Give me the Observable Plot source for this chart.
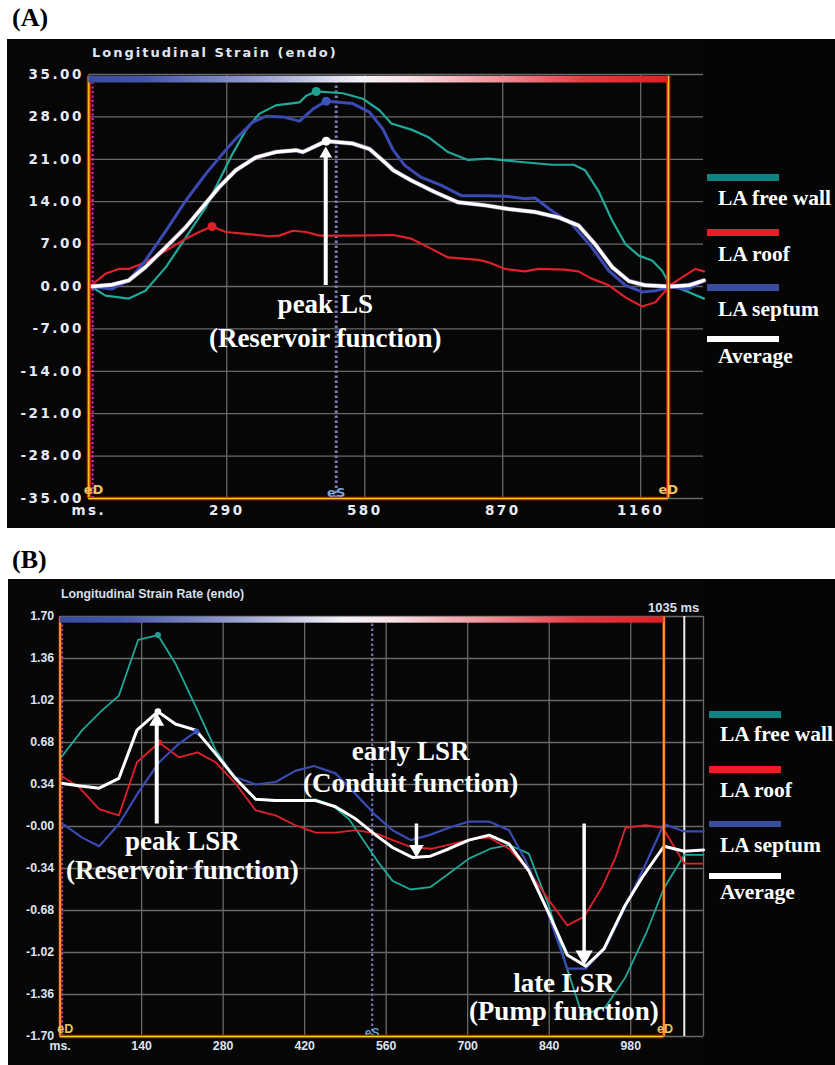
<!DOCTYPE html>
<html>
<head>
<meta charset="utf-8">
<script src="https://cdn.jsdelivr.net/npm/d3@7"></script>
<script src="https://cdn.jsdelivr.net/npm/@observablehq/plot@0.6"></script>
<style>
  body { margin: 0; background: #fff; }
  #page { position: relative; width: 835px; height: 1065px; overflow: hidden; background: #fff; }
  .panel { position: absolute; background: #050505; }
  .plotwrap { position: absolute; }
  .plbl { position: absolute; font-family: "Liberation Serif", "Times New Roman", serif; font-weight: bold; font-size: 26px; line-height: 26px; color: #000; }
  .leg { position: absolute; font-family: "Liberation Serif", "Times New Roman", serif; font-weight: bold; font-size: 21.5px; line-height: 21.5px; color: #fff; white-space: nowrap; }
  .bar { position: absolute; }
  .ttlA { position: absolute; font-family: "DejaVu Sans", sans-serif; font-weight: bold; font-size: 13px; line-height: 13px; letter-spacing: 2px; color: #dfe6f3; white-space: nowrap; }
  .ttlB { position: absolute; font-family: "Liberation Sans", Arial, sans-serif; font-weight: bold; font-size: 12.3px; line-height: 12.3px; color: #d8e0ee; white-space: nowrap; }
</style>
</head>
<body>
<div id="page">
  <div class="plbl" style="left:12px; top:5px;">(A)</div>
  <div class="panel" style="left:7px; top:39px; width:828px; height:489px;"></div>
  <div id="plotA" class="plotwrap" style="left:7px; top:39px;"></div>
  <div class="ttlA" style="left:92px; top:46px;">Longitudinal Strain (endo)</div>

  <div class="plbl" style="left:12px; top:547px;">(B)</div>
  <div class="panel" style="left:8px; top:579px; width:827px; height:486px;"></div>
  <div id="plotB" class="plotwrap" style="left:8px; top:579px;"></div>
  <div class="ttlB" style="left:61px; top:588px;">Longitudinal Strain Rate (endo)</div>
  <div class="ttlB" style="left:648px; top:601px; font-size:13px; line-height:13px;">1035 ms</div>
  <div id="legends"></div>
</div>
<script>
// ---------------- Panel A: Longitudinal Strain (%), time in ms ----------------
const freeWallA = [[5,0],[35,-1.5],[84,-2.0],[119,-0.7],[162,3.2],[204,8.1],[246,13.1],[274,17.5],[302,21.9],[330,25.8],[358,28.5],[393,29.9],[443,30.4],[457,31.5],[478,32.2],[534,31.9],[576,31.0],[611,29.1],[636,26.9],[678,25.9],[713,24.7],[755,22.2],[797,20.9],[840,21.1],[903,20.6],[973,20.1],[1019,20.1],[1043,19.2],[1071,15.8],[1100,10.9],[1128,7.0],[1156,5.1],[1184,4.3],[1205,2.6],[1222,0.2],[1254,-0.7],[1293,-2.0]];
const septumA = [[5,0],[49,-0.4],[84,1.0],[119,4.3],[162,9.2],[204,14.2],[246,18.6],[281,21.9],[309,24.4],[344,27.1],[372,28.1],[408,28.0],[443,27.3],[471,29.3],[499,30.6],[555,30.2],[590,28.8],[618,26.0],[640,22.5],[664,20.0],[699,18.0],[741,16.7],[783,15.0],[833,15.0],[875,14.9],[917,14.5],[938,14.6],[973,12.5],[1015,10.3],[1057,6.5],[1093,2.6],[1128,0.2],[1163,-0.9],[1191,-0.7],[1222,-0.1],[1261,-0.4],[1293,1.0]];
const roofA = [[5,0.2],[35,2.1],[63,2.9],[84,2.9],[119,4.0],[162,5.9],[204,7.9],[232,9.0],[259,9.9],[288,9.0],[330,8.7],[379,8.3],[400,8.4],[429,9.2],[457,9.0],[485,8.4],[555,8.4],[640,8.5],[678,7.9],[713,6.5],[755,4.8],[819,4.4],[840,4.0],[875,2.9],[917,2.5],[945,2.9],[1001,2.8],[1029,2.5],[1057,1.3],[1093,0.2],[1128,-1.8],[1163,-3.3],[1191,-2.6],[1222,0.2],[1247,1.5],[1275,2.9],[1293,2.5]];
const averageA = [[5,0],[49,0.3],[84,1.0],[119,3.2],[162,6.5],[204,9.8],[239,13.1],[274,16.4],[309,19.2],[351,21.3],[393,22.2],[436,22.5],[450,22.2],[499,24.0],[555,23.6],[590,22.7],[625,20.3],[640,19.2],[678,17.5],[727,15.6],[776,13.9],[833,13.4],[882,12.8],[938,12.3],[987,11.4],[1029,10.1],[1064,7.0],[1100,3.2],[1135,0.9],[1170,0.2],[1222,0],[1261,0.2],[1293,1.0]];
const peaksA = [{s:"fw", x:478, y:32.2}, {s:"sep", x:499, y:30.6}, {s:"avg", x:499, y:24.0}, {s:"roof", x:259, y:9.9}];
const yTicksA = [35, 28, 21, 14, 7, 0, -7, -14, -21, -28, -35];
const yLabelsA = ["35.00","28.00","21.00","14.00","7.00","0.00","-7.00","-14.00","-21.00","-28.00","-35.00"];
const xTicksA = [0, 290, 580, 870, 1160];
const xLabelsA = ["ms.","290","580","870","1160"];
const xGridA = [290, 580, 870, 1160];
const eventsA = {eD1: 0, eS: 520, eD2: 1218, magenta: 8};
const arrowA = {x: 498, from: 0.16, to: 23.1};
const notesA = [{x: 497, y: -2.9, t: "peak LS"}, {x: 497, y: -8.6, t: "(Reservoir function)"}];

// ---------------- Panel B: Longitudinal Strain Rate (1/s), time in ms ----------------
const freeWallB = [[2,0.56],[38,0.78],[72,0.94],[101,1.06],[134,1.51],[168,1.55],[198,1.32],[233,0.97],[267,0.62],[301,0.39],[336,0.22],[370,0.21],[439,0.22],[468,0.17],[496,0.06],[525,-0.14],[545,-0.28],[571,-0.44],[602,-0.51],[636,-0.49],[668,-0.38],[702,-0.26],[739,-0.18],[771,-0.15],[805,-0.22],[840,-0.65],[868,-1.11],[897,-1.53],[937,-1.46],[971,-1.22],[1006,-0.87],[1037,-0.50],[1072,-0.23],[1105,-0.23]];
const septumB = [[2,0.03],[38,-0.09],[67,-0.16],[101,0.02],[135,0.28],[170,0.52],[204,0.67],[234,0.77],[267,0.59],[301,0.40],[336,0.34],[370,0.36],[404,0.45],[436,0.49],[473,0.43],[508,0.26],[542,0.09],[571,-0.03],[602,-0.11],[634,-0.07],[668,-0.01],[702,0.04],[737,0.04],[771,-0.03],[800,-0.28],[834,-0.65],[871,-1.15],[903,-1.15],[937,-0.98],[971,-0.65],[1006,-0.30],[1037,0.02],[1072,-0.04],[1105,-0.04]];
const roofB = [[2,0.41],[32,0.32],[67,0.14],[101,0.09],[132,0.52],[170,0.68],[204,0.56],[236,0.60],[267,0.52],[301,0.35],[336,0.13],[370,0.09],[404,0.01],[439,-0.05],[473,-0.05],[508,-0.03],[545,-0.06],[571,-0.11],[605,-0.17],[639,-0.18],[674,-0.14],[708,-0.10],[737,-0.09],[771,-0.18],[805,-0.36],[840,-0.60],[871,-0.80],[900,-0.73],[931,-0.49],[954,-0.25],[971,-0.01],[1006,0.01],[1035,-0.01],[1072,-0.30],[1105,-0.30]];
const averageB = [[2,0.35],[32,0.33],[67,0.31],[101,0.39],[132,0.78],[168,0.93],[198,0.83],[233,0.78],[267,0.59],[301,0.39],[336,0.22],[370,0.21],[439,0.21],[473,0.16],[508,0.06],[545,-0.08],[571,-0.17],[605,-0.25],[636,-0.24],[668,-0.18],[702,-0.11],[737,-0.07],[771,-0.14],[805,-0.36],[840,-0.71],[871,-1.04],[903,-1.13],[934,-0.99],[969,-0.65],[1000,-0.41],[1037,-0.16],[1072,-0.20],[1105,-0.19]];
const peaksB = [{s:"fw", x:168, y:1.55}, {s:"sep", x:234, y:0.77}, {s:"avg", x:168, y:0.93}, {s:"roof", x:170, y:0.68}];
const yTicksB = [1.7, 1.36, 1.02, 0.68, 0.34, 0, -0.34, -0.68, -1.02, -1.36, -1.7];
const yLabelsB = ["1.70","1.36","1.02","0.68","0.34","-0.00","-0.34","-0.68","-1.02","-1.36","-1.70"];
const xTicksB = [0, 140, 280, 420, 560, 700, 840, 980];
const xLabelsB = ["ms.","140","280","420","560","700","840","980"];
const xGridB = [140, 280, 420, 560, 700, 840, 980, 1105];
const eventsB = {eD1: 0, eS: 536, eD2: 1037, magenta: 3.6, cursor: 1072};
const arrowsB = [
  {x: 166, from: 0.02, to: 0.92, dir: "up", h: 13, w: 4},
  {x: 612, from: 0.02, to: -0.25, dir: "down", h: 12.5, w: 3.5},
  {x: 900, from: 0.02, to: -1.125, dir: "down", h: 15, w: 3.5}
];
const notesB = [
  {x: 210, y: -0.119, t: "peak LSR"}, {x: 210, y: -0.354, t: "(Reservoir function)"},
  {x: 602, y: 0.612, t: "early LSR"}, {x: 602, y: 0.353, t: "(Conduit function)"},
  {x: 865, y: -1.272, t: "late LSR"}, {x: 865, y: -1.50, t: "(Pump function)"}
];

// ---------------- legend ----------------
const legendNames = ["LA free wall", "LA roof", "LA septum", "Average"];
const legendColors = ["#118282", "#ee1d25", "#3b4b9d", "#ffffff"];

const lineColor = {fw: "#20a898", roof: "#e0202a", sep: "#3a4ab2", avg: "#ffffff"};
const dotColor = {fw: "#1fa090", roof: "#dc2026", sep: "#3d56bc", avg: "#ffffff"};

const X = d => d[0], Y = d => d[1];
const ns = "http://www.w3.org/2000/svg";

function addGradient(svg, id) {
  const defs = document.createElementNS(ns, "defs");
  const g = document.createElementNS(ns, "linearGradient");
  g.setAttribute("id", id);
  g.setAttribute("x1", "0"); g.setAttribute("x2", "1"); g.setAttribute("y1", "0"); g.setAttribute("y2", "0");
  const stops = [[0,"#3a4ca0"],[0.1,"#4456a8"],[0.3,"#9aa2d0"],[0.47,"#f4f2f8"],[0.55,"#f8e2e6"],[0.72,"#ee8a92"],[0.86,"#e63a42"],[1,"#e01e26"]];
  for (const [o, c] of stops) {
    const s = document.createElementNS(ns, "stop");
    s.setAttribute("offset", o); s.setAttribute("stop-color", c);
    g.appendChild(s);
  }
  defs.appendChild(g);
  svg.insertBefore(defs, svg.firstChild);
}

function arrowMarks(a, yScalePxPerUnit) {
  const hy = a.h / 3; // d3 triangle: tip at 2*hy above centre, base hy below
  const area = Math.sqrt(3) * 3 * hy * hy;
  const r = Math.sqrt(area / Math.PI);
  const up = a.dir === "up";
  const shaftEnd = up ? a.to - (a.h - 1.5) / yScalePxPerUnit : a.to + (a.h - 1.5) / yScalePxPerUnit;
  return [
    Plot.ruleX([a.x], {y1: a.from, y2: shaftEnd, stroke: "#ffffff", strokeWidth: a.w}),
    Plot.dot([a], {x: "x", y: "to", symbol: "triangle", r, fill: "#ffffff", stroke: null,
      rotate: up ? 0 : 180, dy: up ? 2 * hy : -2 * hy})
  ];
}

// ---------------- Plot A ----------------
const yMapA = new Map(yTicksA.map((d, i) => [d, yLabelsA[i]]));
const xMapA = new Map(xTicksA.map((d, i) => [d, xLabelsA[i]]));
const frameA = {x1: 0, x2: eventsA.eD2, yb: -35, yt: 34.7, barLo: 33.6};
const pxA = 424 / 70;

const plotA = Plot.plot({
  width: 696, height: 489,
  marginLeft: 81.3, marginRight: 0, marginTop: 35, marginBottom: 30,
  x: {domain: [0, 1292]},
  y: {domain: [-35, 35]},
  style: {background: "#060607", fontFamily: "DejaVu Sans", fontWeight: "bold", fontSize: "13.5px", overflow: "visible"},
  marks: [
    Plot.gridY(yTicksA, {stroke: "#686868", strokeOpacity: 1, strokeWidth: 1.3}),
    Plot.gridX(xGridA, {stroke: "#686868", strokeOpacity: 1, strokeWidth: 1.3}),
    Plot.axisY(yTicksA, {tickSize: 0, tickPadding: 5, tickFormat: d => yMapA.get(d), color: "#e6eaf4",
      fontFamily: "DejaVu Sans", fontWeight: "bold", fontSize: 13.5, label: null}),
    Plot.axisX(xTicksA, {tickSize: 0, tickPadding: 6.5, tickFormat: d => xMapA.get(d), color: "#e6eaf4",
      fontFamily: "DejaVu Sans", fontWeight: "bold", fontSize: 13.5, label: null}),
    Plot.ruleX([eventsA.magenta], {y1: frameA.yb, y2: frameA.barLo, stroke: "#c83cc8", strokeWidth: 2, strokeDasharray: "2,2.5"}),
    Plot.ruleX([eventsA.eS], {y1: frameA.yb, y2: frameA.barLo, stroke: "#7c7cb4", strokeWidth: 3, strokeDasharray: "2.5,2.5"}),
    Plot.text([{x: eventsA.eS, y: -34.0, t: "eS"}], {x: "x", y: "y", text: "t", fill: "#7ea4dc", fontSize: 13, fontFamily: "DejaVu Sans", fontWeight: "bold", ariaLabel: "event label"}),
    Plot.line(freeWallA, {x: X, y: Y, stroke: lineColor.fw, strokeWidth: 2.2}),
    Plot.line(roofA, {x: X, y: Y, stroke: lineColor.roof, strokeWidth: 2.2}),
    Plot.line(septumA, {x: X, y: Y, stroke: lineColor.sep, strokeWidth: 3}),
    Plot.line(averageA, {x: X, y: Y, stroke: "#c8a8e8", strokeWidth: 4.6, strokeOpacity: 0.55}),
    Plot.line(averageA, {x: X, y: Y, stroke: lineColor.avg, strokeWidth: 3.4}),
    Plot.dot(peaksA, {x: "x", y: "y", r: 4.5, fill: d => dotColor[d.s], stroke: null}),
    // frame
    Plot.ruleX([frameA.x1, frameA.x2], {y1: frameA.yb, y2: frameA.yt, stroke: "#e8201c", strokeWidth: 4}),
    Plot.ruleX([frameA.x1, frameA.x2], {y1: frameA.yb, y2: frameA.yt, stroke: "#ffd21e", strokeWidth: 1.3}),
    Plot.ruleY([frameA.yb], {x1: frameA.x1, x2: frameA.x2, stroke: "#e8201c", strokeWidth: 3.6}),
    Plot.ruleY([frameA.yb], {x1: frameA.x1, x2: frameA.x2, stroke: "#ffd21e", strokeWidth: 1.2}),
    Plot.rect([0], {x1: frameA.x1, x2: frameA.x2, y1: frameA.barLo, y2: frameA.yt, fill: "url(#cbarA)"}),
    Plot.text([{x: eventsA.eD1 + 10, t: "eD"}, {x: eventsA.eD2, t: "eD"}], {x: "x", y: -33.6, text: "t", fill: "#f4c060", fontSize: 13, fontFamily: "DejaVu Sans", fontWeight: "bold", ariaLabel: "event label"}),
    ...arrowMarks({x: arrowA.x, from: arrowA.from, to: arrowA.to, dir: "up", h: 11, w: 4}, pxA),
    Plot.text(notesA, {x: "x", y: "y", text: "t", fill: "#ffffff", fontFamily: "Liberation Serif", fontWeight: "bold", fontSize: 27, textAnchor: "middle", ariaLabel: "annotation"})
  ]
});
addGradient(plotA, "cbarA");
plotA.querySelectorAll('g[aria-label="y-axis tick label"] text, g[aria-label="x-axis tick label"] text, g[aria-label="event label"] text')
  .forEach(t => t.style.letterSpacing = "2.5px");
document.getElementById("plotA").appendChild(plotA);

// ---------------- Plot B ----------------
const yMapB = new Map(yTicksB.map((d, i) => [d, yLabelsB[i]]));
const xMapB = new Map(xTicksB.map((d, i) => [d, xLabelsB[i]]));
const frameB = {x1: 0, x2: eventsB.eD2, yb: -1.7, yt: 1.695, barLo: 1.646};
const pxB = 420 / 3.4;

const plotB = Plot.plot({
  width: 695, height: 486,
  marginLeft: 51.6, marginRight: 0, marginTop: 37, marginBottom: 29,
  x: {domain: [0, 1105]},
  y: {domain: [-1.7, 1.7]},
  style: {background: "#060607", fontFamily: "Liberation Sans", fontWeight: "bold", fontSize: "12.3px", overflow: "visible"},
  marks: [
    Plot.gridY(yTicksB, {stroke: "#686868", strokeOpacity: 1, strokeWidth: 1.3}),
    Plot.gridX(xGridB, {stroke: "#686868", strokeOpacity: 1, strokeWidth: 1.3}),
    Plot.axisY(yTicksB, {tickSize: 0, tickPadding: 6, tickFormat: d => yMapB.get(d), color: "#dde4f2",
      fontFamily: "Liberation Sans", fontWeight: "bold", fontSize: 12.3, label: null}),
    Plot.axisX(xTicksB, {tickSize: 0, tickPadding: 5, tickFormat: d => xMapB.get(d), color: "#dde4f2",
      fontFamily: "Liberation Sans", fontWeight: "bold", fontSize: 12.3, label: null}),
    Plot.ruleX([eventsB.magenta], {y1: frameB.yb, y2: frameB.barLo, stroke: "#c83cc8", strokeWidth: 1.8, strokeDasharray: "2,2.5"}),
    Plot.ruleX([eventsB.eS], {y1: frameB.yb, y2: frameB.barLo, stroke: "#7070a8", strokeWidth: 2.2, strokeDasharray: "2.5,2.5"}),
    Plot.ruleX([eventsB.cursor], {y1: -1.7, y2: 1.7, stroke: "#ececec", strokeWidth: 2}),
    Plot.text([{x: eventsB.eS, y: -1.672, t: "eS"}], {x: "x", y: "y", text: "t", fill: "#5aa0d0", fontSize: 12, fontFamily: "Liberation Sans", fontWeight: "bold"}),
    Plot.line(freeWallB, {x: X, y: Y, stroke: lineColor.fw, strokeWidth: 1.8}),
    Plot.line(roofB, {x: X, y: Y, stroke: lineColor.roof, strokeWidth: 1.8}),
    Plot.line(septumB, {x: X, y: Y, stroke: lineColor.sep, strokeWidth: 2.2}),
    Plot.line(averageB, {x: X, y: Y, stroke: lineColor.avg, strokeWidth: 3}),
    Plot.dot(peaksB, {x: "x", y: "y", r: d => d.s === "avg" ? 4.5 : 3.7, fill: d => dotColor[d.s], stroke: null}),
    // frame
    Plot.ruleX([frameB.x1, frameB.x2], {y1: frameB.yb, y2: frameB.yt, stroke: "#ee4a18", strokeWidth: 2.8}),
    Plot.ruleX([frameB.x1, frameB.x2], {y1: frameB.yb, y2: frameB.yt, stroke: "#ffd23a", strokeWidth: 1}),
    Plot.ruleY([frameB.yb], {x1: frameB.x1, x2: frameB.x2, stroke: "#e8201c", strokeWidth: 3.4}),
    Plot.ruleY([frameB.yb], {x1: frameB.x1, x2: frameB.x2, stroke: "#ffd21e", strokeWidth: 1}),
    Plot.rect([0], {x1: frameB.x1, x2: frameB.x2, y1: frameB.barLo, y2: frameB.yt, fill: "url(#cbarB)"}),
    Plot.text([{x: 9, t: "eD"}, {x: eventsB.eD2 + 2, t: "eD"}], {x: "x", y: -1.64, text: "t", fill: "#f0c060", fontSize: 12.5, fontFamily: "Liberation Sans", fontWeight: "bold"}),
    ...arrowsB.flatMap(a => arrowMarks(a, pxB)),
    Plot.text(notesB, {x: "x", y: "y", text: "t", fill: "#ffffff", fontFamily: "Liberation Serif", fontWeight: "bold", fontSize: 27, textAnchor: "middle"})
  ]
});
addGradient(plotB, "cbarB");
document.getElementById("plotB").appendChild(plotB);

// ---------------- Legends (HTML) ----------------
const legendLayout = [
  {barX: 707, textX: 718, bars: [174, 229, 284, 336], barH: [7, 6.7, 6.7, 5.7], base: [205.7, 262.3, 317.3, 364]},
  {barX: 709, textX: 720, bars: [711, 766, 820.7, 872.7], barH: [6.7, 7, 6.3, 6.3], base: [742.3, 798.3, 853.3, 900]}
];
const legRoot = document.getElementById("legends");
for (const L of legendLayout) {
  legendNames.forEach((name, i) => {
    const b = document.createElement("div");
    b.className = "bar";
    b.style.cssText = `left:${L.barX}px; top:${L.bars[i]}px; width:72px; height:${L.barH[i]}px; background:${legendColors[i]};`;
    legRoot.appendChild(b);
    const t = document.createElement("div");
    t.className = "leg";
    t.style.left = L.textX + "px";
    t.style.top = (L.base[i] - 18) + "px";
    t.textContent = name;
    legRoot.appendChild(t);
  });
}
</script>
</body>
</html>
